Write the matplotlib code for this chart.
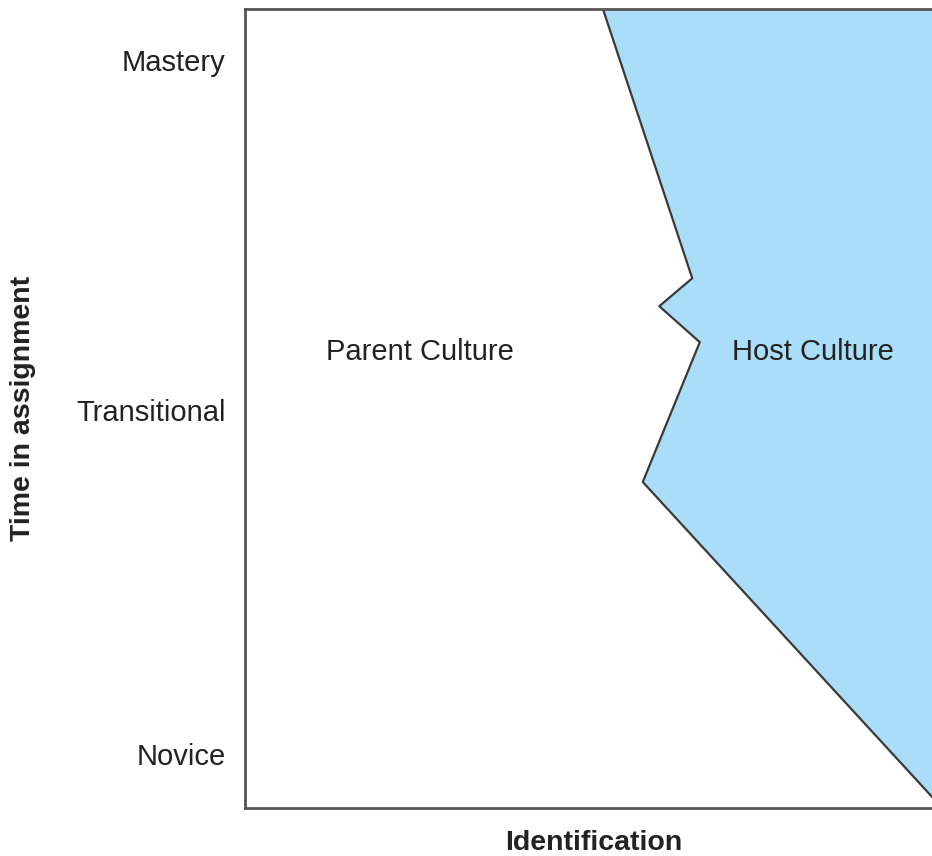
import matplotlib.pyplot as plt

plt.rcParams["font.family"] = ["Liberation Sans", "DejaVu Sans"]

# boundary between parent and host culture (x = identification, y = time)
boundary_y = [100, 66.3, 62.8, 58.3, 40.8, 1.4]
boundary_x = [52.1, 65.1, 60.3, 66.2, 57.9, 100]

tick_pos = [6.8, 49.8, 93.6]
tick_labels = ["Novice", "Transitional", "Mastery"]

regions = ["Parent Culture", "Host Culture"]
region_x = [25.5, 82.7]
region_y = [57.1, 57.1]

fig = plt.figure(figsize=(9.32, 8.56), dpi=100)
ax = fig.add_axes([245 / 932, 48 / 856, 687 / 932, 799 / 856])

ax.fill_betweenx(boundary_y, boundary_x, 100, color="#a9ddf8", lw=0)
ax.plot(boundary_x, boundary_y, color="#3a3a3a", lw=1.6)

for name, x, y in zip(regions, region_x, region_y):
    ax.text(x, y, name, ha="center", va="center", fontsize=21, color="#222222")

ax.set_xlim(0, 100)
ax.set_ylim(0, 100)
ax.set_xticks([])
ax.set_yticks(tick_pos)
ax.set_yticklabels(tick_labels, fontsize=21, color="#222222")
ax.tick_params(axis="y", length=0, pad=14)

for side in ["left", "bottom", "top"]:
    ax.spines[side].set_color("#555555")
    ax.spines[side].set_linewidth(2)
ax.spines["right"].set_visible(False)

ax.set_xlabel("Identification", fontsize=20.5, fontweight="bold", color="#222222")
ax.set_ylabel("Time in assignment", fontsize=20.5, fontweight="bold", color="#222222")
ax.xaxis.set_label_coords(0.507, -0.028)
ax.yaxis.set_label_coords(-0.304, 0.5)

fig.savefig("out.png", dpi=100)
